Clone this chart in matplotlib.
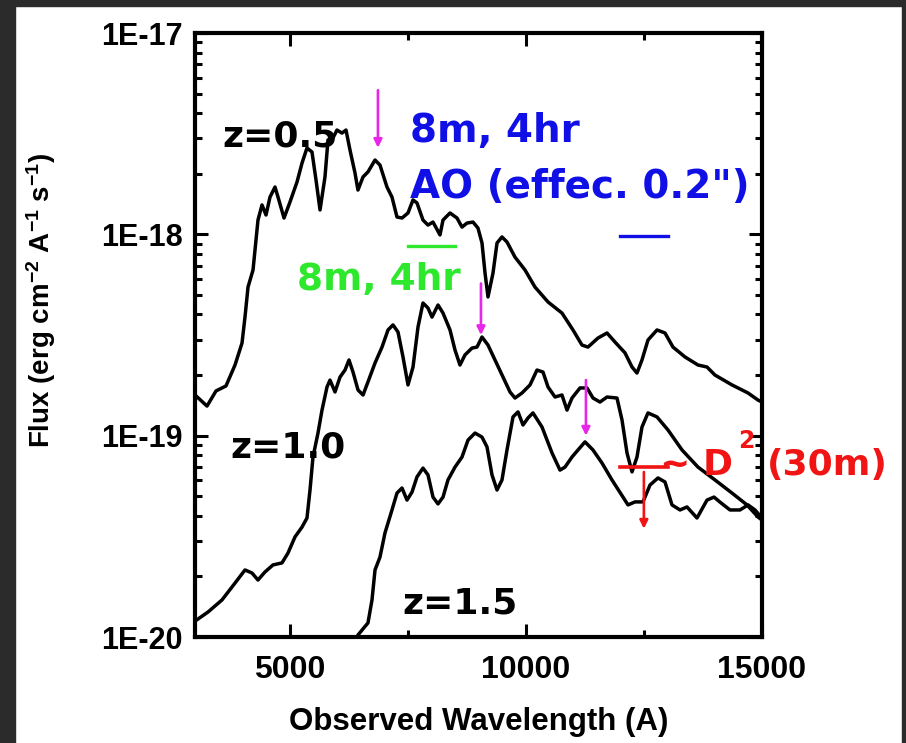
import numpy as np
import matplotlib
matplotlib.use('Agg')
import matplotlib.pyplot as plt
from matplotlib.patches import Rectangle
from matplotlib.ticker import FixedLocator, LogLocator, NullFormatter

plt.rcParams['font.family'] = ['Liberation Sans', 'DejaVu Sans']
plt.rcParams['font.weight'] = 'bold'
plt.rcParams['mathtext.fontset'] = 'custom'
plt.rcParams['mathtext.rm'] = 'Liberation Sans:bold'
plt.rcParams['mathtext.it'] = 'Liberation Sans:bold'
plt.rcParams['mathtext.bf'] = 'Liberation Sans:bold'

# spectra: wavelength (A) and log10 flux
z05_wave = [3000, 3254, 3444, 3656, 3847, 3995, 4058, 4122, 4228, 4333, 4418, 4503, 4587, 4693, 4757,
            4884, 5011, 5159, 5265, 5370, 5476, 5561, 5646, 5751, 5815, 5899, 6005, 6111, 6196, 6280,
            6386, 6449, 6556, 6661, 6810, 6915, 7063, 7169, 7275, 7381, 7508, 7614, 7698, 7825, 7931,
            8037, 8185, 8249, 8397, 8545, 8651, 8757, 8884, 8989, 9074, 9138, 9201, 9307, 9392, 9497,
            9603, 9772, 9984, 10196, 10471, 10767, 11000, 11190, 11317, 11529, 11720, 11889, 12101,
            12249, 12354, 12460, 12587, 12778, 12947, 13116, 13370, 13645, 13836, 14005, 14365, 14704,
            14915, 15000]
z05_logf = [-18.798, -18.853, -18.778, -18.753, -18.649, -18.540, -18.411, -18.262, -18.177, -17.929,
            -17.854, -17.904, -17.815, -17.765, -17.815, -17.919, -17.839, -17.740, -17.646, -17.571,
            -17.591, -17.730, -17.879, -17.715, -17.531, -17.531, -17.482, -17.497, -17.482, -17.581,
            -17.695, -17.780, -17.715, -17.690, -17.631, -17.656, -17.765, -17.815, -17.914, -17.919,
            -17.894, -17.829, -17.844, -17.929, -17.954, -17.939, -18.003, -17.929, -17.894, -17.919,
            -17.964, -17.944, -17.939, -17.969, -18.043, -18.192, -18.311, -18.192, -18.043, -18.013,
            -18.038, -18.113, -18.177, -18.262, -18.336, -18.391, -18.475, -18.550, -18.560, -18.515,
            -18.490, -18.535, -18.589, -18.659, -18.689, -18.624, -18.525, -18.475, -18.490, -18.560,
            -18.609, -18.649, -18.659, -18.699, -18.748, -18.788, -18.823, -18.833]

z10_wave = [3000, 3275, 3571, 3847, 4058, 4206, 4333, 4481, 4651, 4841, 4968, 5116, 5265, 5370, 5434,
            5497, 5603, 5688, 5794, 5857, 5963, 6069, 6175, 6259, 6344, 6450, 6556, 6661, 6810, 6958,
            7085, 7190, 7296, 7402, 7508, 7614, 7720, 7825, 7931, 8016, 8143, 8249, 8397, 8503, 8608,
            8714, 8862, 8968, 9074, 9201, 9349, 9519, 9667, 9772, 9921, 10090, 10238, 10365, 10471,
            10619, 10767, 10873, 10979, 11148, 11296, 11423, 11571, 11720, 11931, 12037, 12143, 12249,
            12354, 12460, 12587, 12778, 13011, 13307, 13645, 14005, 14365, 14683, 14915, 15000]
z10_logf = [-19.921, -19.876, -19.816, -19.732, -19.667, -19.682, -19.717, -19.677, -19.642, -19.632,
            -19.583, -19.503, -19.454, -19.409, -19.270, -19.106, -18.987, -18.873, -18.758, -18.724,
            -18.783, -18.709, -18.674, -18.624, -18.684, -18.773, -18.798, -18.733, -18.639, -18.560,
            -18.475, -18.450, -18.485, -18.609, -18.748, -18.659, -18.460, -18.341, -18.366, -18.411,
            -18.351, -18.391, -18.475, -18.575, -18.649, -18.599, -18.565, -18.560, -18.510, -18.550,
            -18.624, -18.709, -18.783, -18.813, -18.788, -18.748, -18.674, -18.684, -18.758, -18.808,
            -18.798, -18.873, -18.813, -18.763, -18.763, -18.813, -18.833, -18.808, -18.813, -18.922,
            -19.086, -19.180, -19.106, -18.957, -18.887, -18.907, -18.972, -19.071, -19.156, -19.220,
            -19.285, -19.344, -19.404, -19.419]

z15_wave = [6386, 6449, 6661, 6746, 6810, 6915, 7021, 7169, 7275, 7381, 7487, 7593, 7698, 7825, 7931,
            8037, 8143, 8249, 8354, 8503, 8651, 8778, 8926, 9074, 9180, 9286, 9392, 9497, 9603, 9730,
            9836, 9942, 10048, 10153, 10344, 10556, 10725, 10831, 10979, 11106, 11254, 11423, 11614,
            11825, 12058, 12164, 12312, 12481, 12630, 12799, 12947, 13095, 13265, 13413, 13624, 13836,
            13984, 14132, 14323, 14534, 14704, 14852, 15000]
z15_logf = [-20.040, -19.990, -19.930, -19.816, -19.667, -19.603, -19.483, -19.369, -19.285, -19.260,
            -19.320, -19.280, -19.205, -19.161, -19.195, -19.305, -19.339, -19.305, -19.220, -19.156,
            -19.106, -19.022, -18.987, -19.007, -19.056, -19.195, -19.270, -19.220, -19.071, -18.907,
            -18.882, -18.947, -18.912, -18.887, -18.957, -19.086, -19.171, -19.156, -19.106, -19.071,
            -19.031, -19.071, -19.136, -19.220, -19.305, -19.344, -19.329, -19.329, -19.245, -19.210,
            -19.230, -19.344, -19.369, -19.354, -19.409, -19.320, -19.305, -19.334, -19.369, -19.369,
            -19.344, -19.369, -19.409]

# sensitivity bars (wavelength range, flux)
green_band = [7500, 8500]
green_flux = 8.75e-19
blue_band = [12000, 13000]
blue_flux = 9.8e-19
red_band = [12000, 13000]
red_flux = 7.0e-20
red_arrow = [12500, 6.6e-20, 3.45e-20]

# magenta markers: wavelength, start flux, end flux
line_marks = [(6872, 5.2e-18, 2.69e-18),
              (9052, 5.7e-19, 3.16e-19),
              (11274, 1.89e-19, 1.0e-19)]

ytick_vals = [1e-20, 1e-19, 1e-18, 1e-17]
ytick_labs = ['1E-20', '1E-19', '1E-18', '1E-17']
xtick_vals = [5000, 10000, 15000]

magenta = '#e826e8'
green = '#2ee82e'
blue = '#1010e6'
red = '#f01414'

fig = plt.figure(figsize=(9.06, 7.43), dpi=100)
ax = fig.add_axes([195/906, 1-637/743, 567/906, 604/743])

for w, lf in [(z05_wave, z05_logf), (z10_wave, z10_logf), (z15_wave, z15_logf)]:
    ax.plot(w, 10**np.array(lf), color='black', lw=2.5, solid_joinstyle='round')

ax.plot(green_band, [green_flux]*2, color=green, lw=2.4)
ax.plot(blue_band, [blue_flux]*2, color=blue, lw=2.4)
ax.plot(red_band, [red_flux]*2, color=red, lw=2.6)
ax.annotate('', xy=(red_arrow[0], red_arrow[2]), xytext=(red_arrow[0], red_arrow[1]),
            arrowprops=dict(arrowstyle='-|>', color=red, lw=1.9, mutation_scale=12, shrinkA=0, shrinkB=0))
for w, f0, f1 in line_marks:
    ax.annotate('', xy=(w, f1), xytext=(w, f0),
                arrowprops=dict(arrowstyle='-|>', color=magenta, lw=1.9, mutation_scale=12, shrinkA=0, shrinkB=0))

ax.set_yscale('log')
ax.set_xlim(3000, 15000)
ax.set_ylim(1e-20, 1e-17)
ax.set_xticks(xtick_vals)
ax.set_xticklabels([str(v) for v in xtick_vals])
ax.xaxis.set_minor_locator(FixedLocator([7500, 12500]))
ax.set_yticks(ytick_vals)
ax.set_yticklabels(ytick_labs)
ax.yaxis.set_minor_locator(LogLocator(base=10, subs=np.arange(2, 10)))
ax.yaxis.set_minor_formatter(NullFormatter())
ax.tick_params(which='both', direction='in', top=True, right=True, width=2.2)
ax.tick_params(which='major', length=9.5)
ax.tick_params(which='minor', length=5)
ax.tick_params(axis='x', which='major', pad=13, labelsize=23)
ax.tick_params(axis='y', which='major', pad=9, labelsize=22)
for s in ax.spines.values():
    s.set_linewidth(3)

dv = ['DejaVu Sans']
ax.text(3570, 2.72e-18, 'z=0.5', fontsize=26, family=dv, weight='bold')
ax.text(3741, 7.83e-20, 'z=1.0', fontsize=26, family=dv, weight='bold')
ax.text(7381, 1.315e-20, 'z=1.5', fontsize=26, family=dv, weight='bold')
ax.text(7550, 2.88e-18, '8m, 4hr', fontsize=28, family=dv, weight='bold', color=blue)
ax.text(7550, 1.51e-18, 'AO (effec. 0.2")', fontsize=28, family=dv, weight='bold', color=blue, clip_on=False)
ax.text(5159, 5.28e-19, '8m, 4hr', fontsize=27, family=dv, weight='bold', color=green)
ax.text(12841, 6.38e-20, '~ D', fontsize=26, family=dv, weight='bold', color=red, clip_on=False)
ax.text(14492, 8.69e-20, '2', fontsize=17, family=dv, weight='bold', color=red, clip_on=False)
ax.text(15105, 6.38e-20, '(30m)', fontsize=26, family=dv, weight='bold', color=red, clip_on=False)

fig.text(478.5/906, 1-730/743, 'Observed Wavelength (A)', ha='center', va='baseline', fontsize=22.5)
fig.text(41/906, 1-300/743, r'Flux (erg cm$^{-2}$ A$^{-1}$ s$^{-1}$)', ha='center', va='center',
         rotation=90, fontsize=20)

# dark frame around the picture
dark = '#2b2b2b'
fig.patches.append(Rectangle((0, 0), 15/906, 1, transform=fig.transFigure, color=dark, zorder=10))
fig.patches.append(Rectangle((0, 1-6/743), 1, 6/743, transform=fig.transFigure, color=dark, zorder=10))
fig.patches.append(Rectangle((902/906, 0), 4/906, 1, transform=fig.transFigure, color=dark, zorder=10))

fig.savefig('out.png', dpi=100)
plt.close()
